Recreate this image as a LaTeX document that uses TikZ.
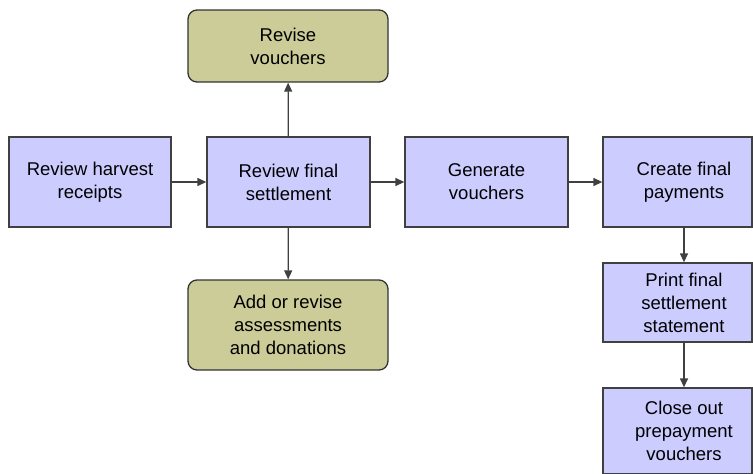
\documentclass[tikz,border=0pt]{standalone}
\usepackage{fontspec}
\setmainfont{Liberation Sans}
\usetikzlibrary{arrows.meta}
\begin{document}
\begin{tikzpicture}[x=1pt,y=-1pt,
  txt/.style={font=\fontsize{18.5}{23}\selectfont,align=center,inner sep=0pt},
  proc/.style={draw=black!75,line width=1.3pt,fill={rgb,255:red,204;green,204;blue,255},txt},
  alt/.style={draw=black!80,line width=1.3pt,fill={rgb,255:red,204;green,204;blue,153},rounded corners=9pt,txt},
  conn/.style={draw=black!75,line width=1.3pt,-{Triangle[length=9pt,width=8pt]}}]
\useasboundingbox (0,0) rectangle (753,474);
\node[proc, minimum width=162pt, minimum height=90pt] (rhr) at (90,182) {Review harvest\\receipts};
\node[proc, minimum width=163pt, minimum height=90pt] (rfs) at (288.5,182) {Review final\\settlement};
\node[proc, minimum width=163pt, minimum height=90pt] (gv) at (486.5,182) {Generate\\vouchers};
\node[proc, minimum width=149pt, minimum height=90pt] (cfp) at (677.5,182) {};
\node[txt] (cfpt) at (684,182) {Create final\\payments};
\node[proc, minimum width=149pt, minimum height=79pt] (pfs) at (677.5,302.5) {};
\node[txt] (pfst) at (684,302.5) {Print final\\settlement\\statement};
\node[proc, minimum width=149pt, minimum height=86pt] (cop) at (677.5,431) {};
\node[txt] (copt) at (684,431) {Close out\\prepayment\\vouchers};
\node[alt, minimum width=200pt, minimum height=72pt] (rv) at (288,46) {Revise\\vouchers};
\node[alt, minimum width=200pt, minimum height=90pt] (ara) at (288,325) {Add or revise\\assessments\\and donations};
\draw[conn] (rhr) -- (rfs);
\draw[conn] (rfs) -- (gv);
\draw[conn] (gv) -- (cfp);
\draw[conn] (rfs) -- (rv);
\draw[conn] (rfs) -- (ara);
\draw[conn] (cfp.south -| cfpt) -- (pfs.north -| cfpt);
\draw[conn] (pfs.south -| cfpt) -- (cop.north -| cfpt);
\end{tikzpicture}
\end{document}
